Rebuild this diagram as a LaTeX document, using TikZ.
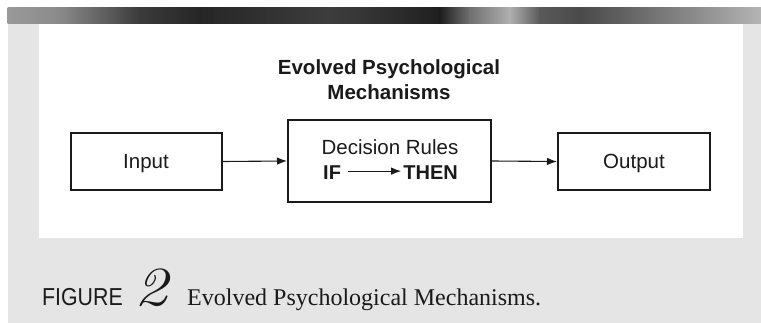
\documentclass[tikz,border=0pt]{standalone}
\usepackage{fontspec}
\setmainfont{Liberation Sans}
\newfontfamily\capsans[FakeStretch=0.87]{Liberation Sans}
\newfontfamily\capserif{Liberation Serif}
\newfontfamily\digitfont{Latin Modern Roman}
\usetikzlibrary{arrows.meta}
\definecolor{panelgray}{HTML}{E5E5E5}
\definecolor{ink}{HTML}{1A1A1A}
\tikzset{
  boxnode/.style={draw=ink, line width=2pt, fill=white, inner sep=0pt},
  conn/.style={draw=ink, line width=1.1pt, -{Latex[length=10pt,width=7.5pt]}},
  txt/.style={inner sep=0pt, text=ink},
}
\begin{document}
\begin{tikzpicture}[x=1pt,y=-1pt]
\path[use as bounding box] (0,0) rectangle (761,323);
% backgrounds
\fill[white] (0,0) rectangle (761,323);
\fill[panelgray] (8,8) rectangle (761,323);
\foreach \xa/\ca/\xb/\cb in {8/40/60/46, 60/46/110/65, 110/65/140/77, 140/77/200/85, 200/85/260/81, 260/81/330/76, 330/76/400/83, 400/83/440/88, 440/88/470/56, 470/56/510/31, 510/31/540/65, 540/65/580/71, 580/71/640/58, 640/58/700/44, 700/44/761/29}
  \shade[left color=black!\ca, right color=black!\cb] (\xa-0.3,8) rectangle (\xb+0.3,24);
\fill[white] (39,24) rectangle (743,238);
% title
\node[txt, font=\bfseries\fontsize{20.5}{25}\selectfont, anchor=base] (t1) at (389,75) {Evolved Psychological};
\node[txt, font=\bfseries\fontsize{20.5}{25}\selectfont, anchor=base] (t2) at (389,100) {Mechanisms};
% boxes
\node[boxnode, minimum width=151pt, minimum height=57pt] (in) at (146.5,161.5) {};
\node[boxnode, minimum width=203pt, minimum height=82pt] (mid) at (389.5,161) {};
\node[boxnode, minimum width=152pt, minimum height=57pt] (out) at (634,161.5) {};
\node[txt, font=\fontsize{20.5}{24}\selectfont, anchor=base] (inl) at (146,169) {Input};
\node[txt, font=\fontsize{20.5}{24}\selectfont, anchor=base] (outl) at (634,169) {Output};
\node[txt, font=\fontsize{20.5}{24}\selectfont, anchor=base] (dr) at (390,155) {Decision Rules};
\node[txt, font=\bfseries\fontsize{20}{24}\selectfont, anchor=base west] (ifn) at (323,180) {IF};
\node[txt, font=\bfseries\fontsize{20}{24}\selectfont, anchor=base east] (thenn) at (458,180) {THEN};
% connectors
\draw[conn] (in.east) -- (mid.west);
\draw[conn] (mid.east) -- (out.west);
\draw[conn] ([xshift=7pt,yshift=2pt]ifn.east) -- ([xshift=-2pt,yshift=2pt]thenn.west);
% caption
\node[txt, font=\capsans\fontsize{24.5}{28}\selectfont, anchor=base west] (fig) at (42,306) {FIGURE};
\node[txt, anchor=base west] (num) at (134,306) {\scalebox{1.45}[1.2]{\digitfont\itshape\fontsize{46}{50}\selectfont 2}};
\node[txt, font=\capserif\fontsize{24}{28}\selectfont, anchor=base west] (cap) at (187,306) {Evolved Psychological Mechanisms.};
\end{tikzpicture}
\end{document}
